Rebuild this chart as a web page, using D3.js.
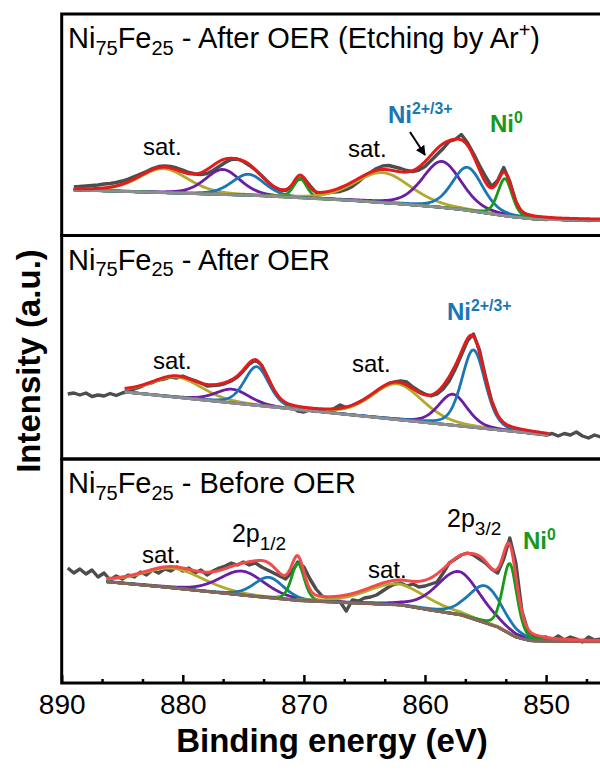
<!DOCTYPE html>
<html><head><meta charset="utf-8">
<script src="https://cdn.jsdelivr.net/npm/d3@7"></script>
<style>
body{margin:0;background:#fff}
svg{display:block}
text{font-family:"Liberation Sans",Arial,Helvetica,sans-serif;fill:#000}
</style>
</head><body>
<svg id="chart" width="600" height="771"></svg>
<script>
// ---------------- DATA ----------------
const xTickValues = [890, 880, 870, 860, 850];
const xMinorTickValues = [886.67, 883.33, 876.67, 873.33, 866.67, 863.33, 856.67, 853.33, 846.67];
const rawStep = 0.5;          // eV between raw points
const profileMix = 0.3;       // Lorentzian fraction of the pseudo-Voigt fit components

// Panel A : After OER (Etching by Ar+)
const aTitle = [["Ni"], ["75", "sub"], ["Fe"], ["25", "sub"], [" - After OER (Etching by Ar"], ["+", "sup"], [")"]];
const aRawStart = 889;
const aRaw = [48.5,49,49.5,50,50.5,51.5,52,53,54.5,56.5,59,61.5,64,67,69,69.5,69,67.5,65.5,63,61.5,61,62,65,69,73,76,76.5,74,70,65.5,60,54,48.5,45.5,45,49,56,57.5,50,43,42,43,43.5,44,46,49,53.5,59,63,67,69.5,70,68.5,67,65,64,65.5,69,75,81,87,94,96,101,93,82,70,59,49,55,68,54,34,22,19,17.5,16.5,16,16.5,16.5,15.5,16,15.5,16,15,15.5,15.5];
const aFitRange = [889, 845.5];
const aBgEnergy = [890, 886, 882, 878, 874, 870, 866, 862, 859, 857, 855, 853, 851, 849, 845];
const aBgValue  = [46, 44.5, 43, 41.5, 40, 37.5, 35, 31.5, 28.5, 26, 22.5, 19, 16.5, 15.8, 15.5];
const aPeakKind   = ["sat", "p", "b", "g", "sat", "p", "b", "g"];
const aPeakCenter = [881.6, 876.7, 874.6, 870.3, 863.5, 858.6, 856.5, 853.4];
const aPeakHeight = [24, 25, 21, 19, 30, 46, 43, 37];
const aPeakFwhm   = [4.8, 3.4, 3.2, 1.3, 5.5, 3.8, 3.0, 1.4];

// Panel B : After OER
const bTitle = [["Ni"], ["75", "sub"], ["Fe"], ["25", "sub"], [" - After OER"]];
const bRawStart = 889.5;
const bRaw = [65,66,64,66,62.5,64,63,65.5,63.5,66,67.5,70,72,75,76.5,79,80,82,81,83,80.5,78.5,76,73,73.5,74,75.5,78,82,88,95,99,94,82,69,60,55,52,48,47,49,47.5,49.5,48.5,50.5,54,51.5,53.5,56.5,59.5,63.5,68,72,75.5,77,78,77,72,68,65,63,65,70,78,90,104,118,125,109,82,58,43,35,31,28.5,27.5,26.5,25.5,25,24,25.5,23,25.5,24,27,23,21,24,22];
const bFitRange = [884.8, 849.8];
const bBgEnergy = [884.8, 878, 870, 862, 858, 854, 849.8];
const bBgValue  = [67, 58.6, 48.8, 39, 34.1, 29.2, 24];
const bPeakKind   = ["sat", "p", "b", "sat", "p", "b"];
const bPeakCenter = [880.5, 875.9, 873.9, 862.3, 857.7, 856.0];
const bPeakHeight = [20.3, 13.7, 38.7, 35.7, 31, 77.4];
const bPeakFwhm   = [4.9, 3.3, 2.4, 5.0, 2.8, 2.3];

// Panel C : Before OER
const cTitle = [["Ni"], ["75", "sub"], ["Fe"], ["25", "sub"], [" - Before OER"]];
const cRawStart = 889.5;
const cRaw = [115,110,114,109,113,106,110,103,107,104,108,106,111,108,113,110,114,112,116,112,115,110,113,108,112,115,117,120,118,121,118,120,116,113,110,107,104,111,121,116,104,94,87,85,84,81,72,83,82,85,86,88,92,96,99,100,97,99,96,97,99,101,110,120,124,128,130,128,124,120,114,110,124,145,120,72,52,47,45,46,43,47,43,46,44,41,46,43,44];
const cFitRange = [886.3, 845.5];
const cBgEnergy = [886.3, 882, 878, 874, 870.3, 866, 862, 859.6, 857, 855, 854, 852.5, 851.3, 849, 845.5];
const cBgValue  = [101.3, 96.5, 91.5, 86.5, 82.3, 80, 78, 73, 68, 60, 56, 46, 42.3, 41.5, 41.3];
const cPeakKind   = ["sat", "p", "b", "g", "sat", "p", "b", "g"];
const cPeakCenter = [880.8, 875.1, 872.9, 870.5, 862.35, 857.2, 855.0, 853.0];
const cPeakHeight = [19.7, 24, 20.4, 37, 21, 43, 37, 70];
const cPeakFwhm   = [6.0, 4.4, 2.9, 1.25, 5.8, 4.3, 3.3, 1.4];

// ---------------- STYLE / LAYOUT ----------------
const left = 61.7, right = 600.6;
const panelTop = [14, 235.5, 459];
const panelBottom = [235.5, 459, 683];
const kindColor = {sat: "#b3aa2b", p: "#6a1fa2", b: "#1a77b6", g: "#17991a"};
const rawColor = "#4d4d4d";

const panels = [
  {title: aTitle, rawStart: aRawStart, raw: aRaw, fit: aFitRange, bgE: aBgEnergy, bgV: aBgValue,
   kind: aPeakKind, center: aPeakCenter, height: aPeakHeight, fwhm: aPeakFwhm,
   bgColor: "#8e8e8e", envColor: "#e21b1b"},
  {title: bTitle, rawStart: bRawStart, raw: bRaw, fit: bFitRange, bgE: bBgEnergy, bgV: bBgValue,
   kind: bPeakKind, center: bPeakCenter, height: bPeakHeight, fwhm: bPeakFwhm,
   bgColor: "#8e8e8e", envColor: "#e21b1b"},
  {title: cTitle, rawStart: cRawStart, raw: cRaw, fit: cFitRange, bgE: cBgEnergy, bgV: cBgValue,
   kind: cPeakKind, center: cPeakCenter, height: cPeakHeight, fwhm: cPeakFwhm,
   bgColor: "#8a645e", envColor: "#f24b4b"}
];

const svg = d3.select("#chart");
const x = d3.scaleLinear().domain([890, 845.5]).range([left, right]);

function pv(e, c, h, w) {
  const r = (e - c) * (e - c) / (w * w);
  return h * (profileMix / (1 + 4 * r) + (1 - profileMix) * Math.exp(-4 * Math.LN2 * r));
}

function richText(g, xp, yp, segs, size, opt) {
  opt = opt || {};
  const t = g.append("text").attr("x", xp).attr("y", yp).attr("font-size", size);
  if (opt.weight) t.attr("font-weight", opt.weight);
  if (opt.fill) t.style("fill", opt.fill);
  let shift = 0;
  segs.forEach(s => {
    const k = s[1];
    const target = k === "sub" ? size * (opt.subDy || 0.23) : k === "sup" ? -size * (opt.supDy || 0.38) : 0;
    const ts = t.append("tspan").text(s[0]).attr("dy", target - shift);
    if (k) ts.attr("font-size", size * (opt.small || 0.68));
    shift = target;
  });
  return t;
}

panels.forEach((p, i) => {
  const y = d3.scaleLinear().domain([0, panelBottom[i] - panelTop[i]]).range([panelBottom[i], panelTop[i]]);
  const g = svg.append("g");
  const bg = d3.scaleLinear().domain(p.bgE).range(p.bgV);
  const grid = d3.range(p.fit[0], p.fit[1] - 1e-9, -0.05);
  const line = d3.line().x(d => x(d[0])).y(d => y(d[1]));

  // raw spectrum
  const rawPts = p.raw.map((v, k) => [p.rawStart - k * rawStep, v]);
  g.append("path").attr("d", line(rawPts)).attr("fill", "none")
    .attr("stroke", rawColor).attr("stroke-width", 3.4).attr("stroke-linejoin", "round");

  // components
  p.center.forEach((c, k) => {
    const pts = grid.map(e => [e, bg(e) + pv(e, c, p.height[k], p.fwhm[k])]);
    g.append("path").attr("d", line(pts)).attr("fill", "none")
      .attr("stroke", kindColor[p.kind[k]]).attr("stroke-width", 2.8);
  });

  // background (drawn over the component bases)
  g.append("path").attr("d", line(grid.map(e => [e, bg(e)]))).attr("fill", "none")
    .attr("stroke", p.bgColor).attr("stroke-width", 3);

  // envelope
  const env = grid.map(e => [e, bg(e) + d3.sum(p.center, (c, k) => pv(e, c, p.height[k], p.fwhm[k]))]);
  g.append("path").attr("d", line(env)).attr("fill", "none")
    .attr("stroke", p.envColor).attr("stroke-width", 3);

  // frame
  g.append("rect").attr("x", left).attr("y", panelTop[i]).attr("width", right - left + 20)
    .attr("height", panelBottom[i] - panelTop[i]).attr("fill", "none")
    .attr("stroke", "#000").attr("stroke-width", 3);

  richText(g, 68, panelTop[i] + 34, p.title, 29, {subDy: 0.23, supDy: 0.38, small: 0.69});
  p.y = y;
});

// annotations (positions in data units)
function label(pi, e, v, segs, size, opt) {
  richText(svg, x(e), panels[pi].y(v), segs, size, opt);
}
label(0, 883.29, 80.5, [["sat."]], 24);
label(0, 866.36, 78.5, [["sat."]], 24);
label(0, 863.06, 112.5, [["Ni"], ["2+/3+", "sup"]], 24, {weight: "bold", fill: "#1a77b6", supDy: 0.38, small: 0.66});
label(0, 854.63, 103.5, [["Ni"], ["0", "sup"]], 24, {weight: "bold", fill: "#17991a", supDy: 0.38, small: 0.66});
label(1, 882.46, 90, [["sat."]], 24);
label(1, 866.03, 87, [["sat."]], 24);
label(1, 858.18, 139, [["Ni"], ["2+/3+", "sup"]], 24, {weight: "bold", fill: "#1a77b6", supDy: 0.38, small: 0.66});
label(2, 883.37, 120, [["sat."]], 24);
label(2, 875.94, 141, [["2p"], ["1/2", "sub"]], 25, {subDy: 0.32, small: 0.76});
label(2, 864.71, 105, [["sat."]], 24);
label(2, 858.18, 156, [["2p"], ["3/2", "sub"]], 25, {subDy: 0.32, small: 0.76});
label(2, 851.91, 134, [["Ni"], ["0", "sup"]], 24, {weight: "bold", fill: "#17991a", supDy: 0.38, small: 0.66});

// arrow in top panel
svg.append("defs").append("marker").attr("id", "ah").attr("viewBox", "0 0 10 10")
  .attr("refX", 9).attr("refY", 5).attr("markerWidth", 5).attr("markerHeight", 5)
  .attr("orient", "auto").append("path").attr("d", "M0,0L10,5L0,10z").attr("fill", "#000");
svg.append("line")
  .attr("x1", x(861.24)).attr("y1", panels[0].y(103.5))
  .attr("x2", x(860.0)).attr("y2", panels[0].y(80.5))
  .attr("stroke", "#000").attr("stroke-width", 2).attr("marker-end", "url(#ah)");

// x axis
const axisY = panelBottom[2];
const axG = svg.append("g").attr("transform", `translate(0,${axisY})`);
axG.call(d3.axisBottom(x).tickValues(xTickValues).tickFormat(d3.format("d")).tickSizeInner(-8).tickSizeOuter(0).tickPadding(10));
axG.select(".domain").remove();
axG.selectAll(".tick line").attr("stroke", "#000").attr("stroke-width", 2.5);
axG.selectAll(".tick text").attr("font-size", 28).attr("font-family", "Liberation Sans, Arial, sans-serif")
  .attr("dy", null).attr("y", 31);
const axMinor = svg.append("g").attr("transform", `translate(0,${axisY})`);
axMinor.call(d3.axisBottom(x).tickValues(xMinorTickValues).tickFormat("").tickSizeInner(-4).tickSizeOuter(0));
axMinor.select(".domain").remove();
axMinor.selectAll(".tick line").attr("stroke", "#000").attr("stroke-width", 2.5);

svg.append("text").attr("x", 332).attr("y", 752).attr("text-anchor", "middle")
  .attr("font-size", 33).attr("font-weight", "bold").text("Binding energy (eV)");
svg.append("text").attr("transform", "translate(40,361) rotate(-90)").attr("text-anchor", "middle")
  .attr("font-size", 33).attr("font-weight", "bold").text("Intensity (a.u.)");
</script>
</body></html>
